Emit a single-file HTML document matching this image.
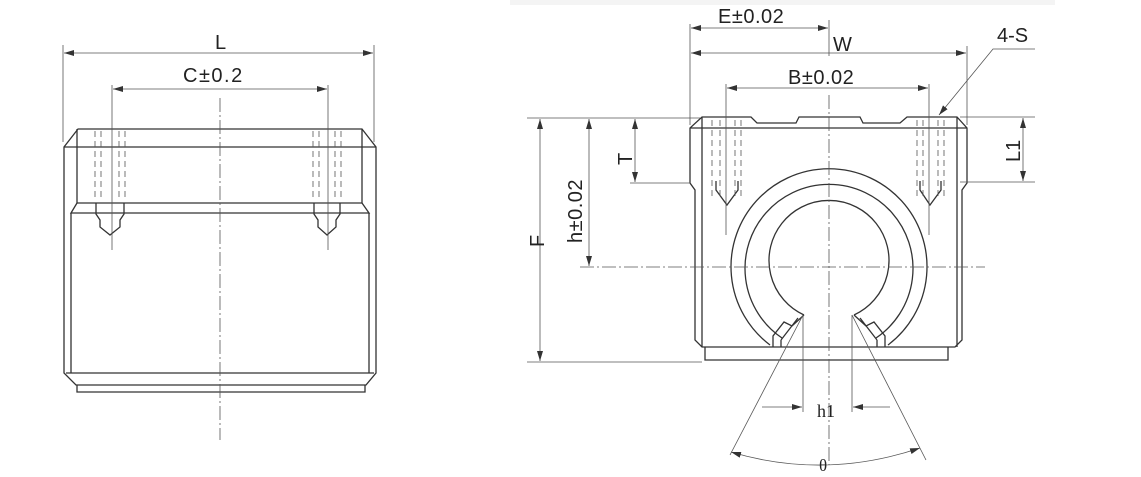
<!DOCTYPE html>
<html><head><meta charset="utf-8"><style>
html,body{margin:0;padding:0;background:#fff;}
svg{display:block;}
text{font-family:"Liberation Sans",sans-serif;fill:#222;}
</style></head><body>
<svg width="1141" height="477" viewBox="0 0 1141 477" xmlns="http://www.w3.org/2000/svg">
<defs>
<marker id="a" viewBox="0 0 10 6" refX="10" refY="3" markerWidth="10" markerHeight="6" orient="auto-start-reverse" markerUnits="userSpaceOnUse"><path d="M0,0 L10,3 L0,6 z" fill="#333"/></marker>
</defs>
<rect x="510" y="0" width="545" height="5" fill="#f4f4f4"/>
<g stroke="#333" fill="none" stroke-width="1.3">
<path d="M78,129 L362,129 L376,147 L376,373 L366,385 L76,385 L64,373 L64,147 Z"/>
<line x1="64" y1="147" x2="376" y2="147"/>
<line x1="77" y1="129" x2="77" y2="203"/><line x1="362" y1="129" x2="362" y2="203"/>
<line x1="77" y1="203" x2="362" y2="203"/>
<path d="M77,203 L71,213 L369,213 L362,203"/>
<line x1="71" y1="213" x2="71" y2="373"/><line x1="369" y1="213" x2="369" y2="373"/>
<line x1="66" y1="373" x2="374" y2="373"/>
<path d="M77,385 L77,392 L365,392 L365,385"/>
<path d="M96,203 L96,214 L100,220 L100,227 L110,235 L120,227 L120,220 L124,214 L124,203"/>
<path d="M314,203 L314,214 L318,220 L318,227 L327,235 L336,227 L336,220 L340,214 L340,203"/>
</g>
<g stroke="#555" stroke-width="0.8" fill="none">
<line x1="63" y1="45" x2="63" y2="142"/><line x1="374" y1="45" x2="374" y2="142"/>
<line x1="64" y1="53" x2="373" y2="53" marker-start="url(#a)" marker-end="url(#a)"/>
<line x1="112" y1="85" x2="112" y2="250"/><line x1="328" y1="85" x2="328" y2="250"/>
<line x1="113" y1="89" x2="327" y2="89" marker-start="url(#a)" marker-end="url(#a)"/>
<line x1="220" y1="98" x2="220" y2="440" stroke-dasharray="14,3,2,3"/>
<g stroke-dasharray="6,4">
<line x1="95" y1="131" x2="95" y2="200"/><line x1="101" y1="131" x2="101" y2="200"/><line x1="119" y1="131" x2="119" y2="200"/><line x1="125" y1="131" x2="125" y2="200"/>
<line x1="313" y1="131" x2="313" y2="200"/><line x1="319" y1="131" x2="319" y2="200"/><line x1="335" y1="131" x2="335" y2="200"/><line x1="341" y1="131" x2="341" y2="200"/>
</g>
</g>
<text x="215" y="49" font-size="20">L</text>
<text x="183" y="82" font-size="20" letter-spacing="1.5">C±0.2</text>

<g stroke="#333" fill="none" stroke-width="1.3">
<path d="M702,117 L751,117 L757,123 L796,123 L799,117 L860,117 L863,123 L900,123 L907,117 L957,117 L967,128 L967,183 L962,190 L962,340 L955,347 L702,347 L695,340 L695,190 L690,183 L690,128 Z"/>
<line x1="690" y1="128" x2="967" y2="128"/>
<line x1="702" y1="117" x2="702" y2="347"/><line x1="957" y1="117" x2="957" y2="347"/>
<path d="M705,347 L705,360 L948,360 L948,347"/>
<path d="M770,345 A98,98 0 1 1 888,345"/>
<path d="M782,338 A84,84 0 1 1 876,338"/>
<path d="M804,315 A60,60 0 1 1 854,315"/>
<path d="M804,315 L792,326 L784,322 L773,336 L773,347 M781,340 L781,347 M798,318 L781,340"/>
<path d="M854,315 L866,326 L874,322 L885,336 L885,347 M877,340 L877,347 M860,318 L877,340"/>
<path d="M716,181 L716,190 L727,205 L738,190 L738,181"/>
<path d="M920,181 L920,190 L930,205 L941,190 L941,181"/>
</g>
<g stroke="#555" stroke-width="0.8" fill="none">
<g stroke-dasharray="6,4">
<line x1="712" y1="120" x2="712" y2="200"/><line x1="720" y1="120" x2="720" y2="200"/><line x1="735" y1="120" x2="735" y2="200"/><line x1="741" y1="120" x2="741" y2="200"/>
<line x1="917" y1="120" x2="917" y2="200"/><line x1="923" y1="120" x2="923" y2="200"/><line x1="938" y1="120" x2="938" y2="200"/><line x1="944" y1="120" x2="944" y2="200"/>
</g>
<line x1="726" y1="84" x2="726" y2="235"/><line x1="929" y1="84" x2="929" y2="235"/>
<line x1="727" y1="88" x2="928" y2="88" marker-start="url(#a)" marker-end="url(#a)"/>
<line x1="690" y1="24" x2="690" y2="125"/><line x1="967" y1="46" x2="967" y2="125"/>
<line x1="691" y1="28" x2="828" y2="28" marker-start="url(#a)" marker-end="url(#a)"/>
<line x1="691" y1="53" x2="966" y2="53" marker-start="url(#a)" marker-end="url(#a)"/>
<line x1="829" y1="20" x2="829" y2="56"/>
<line x1="829" y1="95" x2="829" y2="465" stroke-dasharray="14,3,2,3"/>
<line x1="580" y1="267" x2="985" y2="267" stroke-dasharray="14,3,2,3"/>
<line x1="527" y1="118" x2="700" y2="118"/><line x1="527" y1="362" x2="702" y2="362"/>
<line x1="540" y1="119" x2="540" y2="361" marker-start="url(#a)" marker-end="url(#a)"/>
<line x1="589" y1="119" x2="589" y2="266" marker-start="url(#a)" marker-end="url(#a)"/>
<line x1="635" y1="119" x2="635" y2="182" marker-start="url(#a)" marker-end="url(#a)"/>
<line x1="630" y1="183" x2="690" y2="183"/>
<line x1="960" y1="117" x2="1035" y2="117"/><line x1="960" y1="182" x2="1035" y2="182"/>
<line x1="1023" y1="118" x2="1023" y2="181" marker-start="url(#a)" marker-end="url(#a)"/>
<polyline points="1035,49 993,49 939,115" marker-end="url(#a)"/>
<line x1="803" y1="315" x2="803" y2="412"/><line x1="852" y1="315" x2="852" y2="412"/>
<line x1="762" y1="407" x2="802" y2="407" marker-end="url(#a)"/>
<line x1="890" y1="407" x2="853" y2="407" marker-end="url(#a)"/>
<line x1="803" y1="315" x2="730" y2="455"/><line x1="852" y1="315" x2="926" y2="460"/>
<path d="M731,452 Q825,480 920,448" marker-start="url(#a)" marker-end="url(#a)"/>
</g>
<text x="718" y="23" font-size="20" letter-spacing="0.5">E±0.02</text>
<text x="833" y="51" font-size="20">W</text>
<text x="788" y="84" font-size="20" letter-spacing="0.5">B±0.02</text>
<text x="997" y="42" font-size="20">4-S</text>
<text x="0" y="0" font-size="20" transform="translate(1020,162) rotate(-90)">L1</text>
<text x="0" y="0" font-size="20" transform="translate(582,243) rotate(-90)" letter-spacing="0.5">h±0.02</text>
<text x="0" y="0" font-size="20" transform="translate(632,165) rotate(-90)">T</text>
<text x="0" y="0" font-size="20" transform="translate(544,247) rotate(-90)">F</text>
<text x="817" y="417" font-size="18" style="font-family:'Liberation Serif',serif">h1</text>
<text x="819" y="471" font-size="17" style="font-family:'Liberation Serif',serif">θ</text>
</svg>
</body></html>
